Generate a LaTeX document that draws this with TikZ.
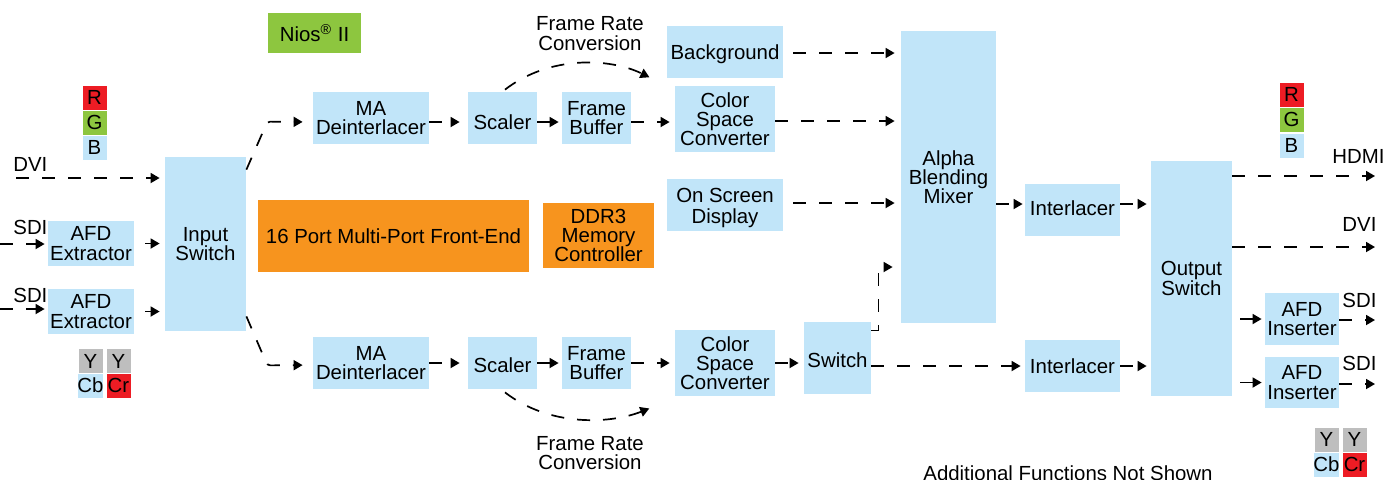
\documentclass[tikz,border=0pt]{standalone}
\usepackage{fontspec}
\setmainfont{Liberation Sans}
\usetikzlibrary{arrows.meta,calc}
\definecolor{lb}{RGB}{193,229,249}
\definecolor{orng}{RGB}{247,148,30}
\definecolor{grn}{RGB}{141,198,63}
\definecolor{rd}{RGB}{237,28,36}
\definecolor{gry}{RGB}{190,190,190}
\newcommand\fs{\fontsize{10.2}{9.6}\selectfont}
\newcommand\lowr[2]{\raisebox{-#1}[\height][\depth]{#2}}
\begin{document}
\begin{tikzpicture}[x=0.5pt,y=-0.5pt,
  box/.style={fill=lb,inner sep=0pt,align=center,font=\fs},
  obox/.style={box,fill=orng},
  sq/.style={inner sep=0pt,minimum size=12.5pt,font=\fs,draw=white,line width=0.4pt},
  arr/.style={draw,line width=0.85pt,dash pattern=on 6.5pt off 6.5pt,-{Triangle[length=4.5pt,width=5pt]},shorten >=2pt},
  lbl/.style={inner sep=0pt,font=\fs,align=center}]
\useasboundingbox (0,0) rectangle (1397,479);

% colour squares left
\node[sq,fill=rd] (lR) at (94.5,97.5) {R};
\node[sq,fill=grn] (lG) at (94.5,122.5) {G};
\node[sq,fill=lb] (lB) at (94.5,147.5) {B};
\node[sq,fill=gry] (lY1) at (90.5,361) {Y};
\node[sq,fill=lb] (lCb) at (90.5,385.5) {Cb};
\node[sq,fill=gry] (lY2) at (118.5,361) {Y};
\node[sq,fill=rd] (lCr) at (118.5,385.5) {Cr};
% colour squares right
\node[sq,fill=rd] (rR) at (1291.5,94.5) {R};
\node[sq,fill=grn] (rG) at (1291.5,119.5) {G};
\node[sq,fill=lb] (rB) at (1291.5,145.5) {B};
\node[sq,fill=gry] (rY1) at (1326.5,439.5) {Y};
\node[sq,fill=lb] (rCb) at (1326.5,464.5) {Cb};
\node[sq,fill=gry] (rY2) at (1354.5,439.5) {Y};
\node[sq,fill=rd] (rCr) at (1354.5,464.5) {Cr};

% boxes
\node[box,minimum width=40.5pt,minimum height=87pt] (in) at (205.5,244) {Input\\Switch};
\node[box,minimum width=43pt,minimum height=22.5pt] (afd1) at (91,243.5) {AFD\\Extractor};
\node[box,minimum width=43pt,minimum height=22.5pt] (afd2) at (91,311.5) {AFD\\Extractor};
\node[box,fill=grn,minimum width=46.5pt,minimum height=20pt] (nios) at (314.5,33) {Nios\textsuperscript{®} II};
\node[box,minimum width=58pt,minimum height=26pt] (mad1) at (371,118) {MA\\Deinterlacer};
\node[box,minimum width=34.5pt,minimum height=26pt] (sc1) at (502.5,118) {\lowr{2pt}{Scaler}};
\node[box,minimum width=34.5pt,minimum height=26pt] (fb1) at (596.5,118) {Frame\\Buffer};
\node[box,minimum width=50pt,minimum height=33pt] (csc1) at (725,119) {Color\\Space\\Converter};
\node[box,minimum width=58pt,minimum height=26pt] (bg) at (725,52) {\lowr{1.2pt}{Background}};
\node[box,minimum width=58pt,minimum height=26pt] (osd) at (725,205) {\lowr{2pt}{\begin{tabular}{@{}c@{}}On Screen\\Display\end{tabular}}};
\node[box,minimum width=47.5pt,minimum height=146pt] (mix) at (948.5,177) {Alpha\\Blending\\Mixer};
\node[box,minimum width=47.5pt,minimum height=26pt] (il1) at (1072.5,210) {\lowr{-0.8pt}{Interlacer}};
\node[box,minimum width=47.5pt,minimum height=26pt] (il2) at (1072.5,366) {Interlacer};
\node[box,minimum width=40.5pt,minimum height=117.5pt] (out) at (1191.5,278.5) {Output\\Switch};
\node[box,minimum width=37pt,minimum height=26pt] (afdi1) at (1302,319) {AFD\\Inserter};
\node[box,minimum width=37pt,minimum height=25.5pt] (afdi2) at (1302,382.5) {AFD\\Inserter};
\node[obox,minimum width=135.5pt,minimum height=36pt] (mpfe) at (393.5,236) {16 Port Multi-Port Front-End};
\node[obox,minimum width=55.5pt,minimum height=32.5pt] (ddr) at (598.5,235.5) {DDR3\\Memory\\Controller};
\node[box,minimum width=58pt,minimum height=26pt] (mad2) at (371,363) {MA\\Deinterlacer};
\node[box,minimum width=34.5pt,minimum height=26pt] (sc2) at (502.5,363) {\lowr{1pt}{Scaler}};
\node[box,minimum width=34.5pt,minimum height=26pt] (fb2) at (596.5,363) {Frame\\Buffer};
\node[box,minimum width=50pt,minimum height=33pt] (csc2) at (725,363) {Color\\Space\\Converter};
\node[box,minimum width=33.5pt,minimum height=36pt] (sw) at (837.5,358) {\lowr{1pt}{Switch}};

% labels
\node[lbl,anchor=west] (ldvi) at (13,164) {DVI};
\node[lbl,anchor=west] (lsdi1) at (13,227) {SDI};
\node[lbl,anchor=west] (lsdi2) at (13,295) {SDI};
\node[lbl,anchor=west] (lhdmi) at (1332,156) {HDMI};
\node[lbl,anchor=west] (ldvo) at (1342,224) {DVI};
\node[lbl,anchor=west] (lsdo1) at (1342,300) {SDI};
\node[lbl,anchor=west] (lsdo2) at (1342,363) {SDI};
\node[lbl] (fr1) at (590,33.5) {Frame Rate\\Conversion};
\node[lbl] (fr2) at (590,453) {Frame Rate\\Conversion};
\node[lbl,anchor=west] (addl) at (923,473.5) {Additional Functions Not Shown};

% free ends
\coordinate (dviin) at (16,178);
\coordinate (sdi1) at (0,244);
\coordinate (sdi2) at (0,309);
\coordinate (hd) at (1375,176);
\coordinate (dvo) at (1375,247);
\coordinate (so1) at (1375,320);
\coordinate (so2) at (1375,384);
\coordinate (frt) at (653,79);
\coordinate (frb) at (653,407);

% input side
\draw[arr,shorten >=2.5pt] (dviin) -- (dviin -| in.west);
\draw[arr,shorten >=1.5pt] (sdi1) -- (sdi1 -| afd1.west);
\draw[arr,shorten >=1.5pt] (sdi2) -- (sdi2 -| afd2.west);
\draw[arr,shorten <=5.5pt,shorten >=2.5pt] (afd1.east) -- (afd1.east -| in.west);
\draw[arr,shorten <=5.5pt,shorten >=2.5pt] (afd2.east) -- (afd2.east -| in.west);

% input switch branches
\draw[arr,shorten >=5pt,rounded corners=1.5pt] ([yshift=-6.5pt]in.north east) -- ++(10.5pt,24pt) -- ([yshift=-2pt]mad1.west);
\draw[arr,shorten >=5pt,rounded corners=1.5pt] ([yshift=7.5pt]in.south east) -- ++(10.5pt,-24.5pt) -- ([yshift=-1pt]mad2.west);

% top row
\draw[arr,shorten >=4pt] ([yshift=-2pt]mad1.east) -- ([yshift=-2pt]sc1.west);
\draw[arr,shorten >=1.5pt] ([yshift=-2pt]sc1.east) -- ([yshift=-2pt]fb1.west);
\draw[arr,shorten >=2.5pt] ([yshift=-2pt]fb1.east) -- ([yshift=-1.5pt]csc1.west);
\coordinate (c1) at ([yshift=-1pt]csc1.east);
\draw[arr,shorten >=3pt] (c1) -- (c1 -| mix.west);
\coordinate (b1) at ([yshift=-0.5pt]bg.east);
\draw[arr,shorten <=5pt,shorten >=3pt] (b1) -- (b1 -| mix.west);
\coordinate (o1) at ([yshift=1pt]osd.east);
\draw[arr,shorten <=5pt,shorten >=3pt] (o1) -- (o1 -| mix.west);
\draw[arr] ([xshift=1.25pt,yshift=1pt]sc1.north) .. controls (550,55) and (610,58) .. (frt);

% mixer to output
\coordinate (m1) at ([yshift=3pt]il1.west);
\draw[arr,shorten >=1pt] (m1 -| mix.east) -- (m1);
\coordinate (m2) at ([yshift=3pt]il1.east);
\draw[arr] (m2) -- (m2 -| out.west);

% bottom row
\draw[arr,shorten >=4pt] (mad2.east) -- (sc2.west);
\draw[arr,shorten >=1.5pt] (sc2.east) -- (fb2.west);
\draw[arr,shorten >=2.5pt] (fb2.east) -- (csc2.west);
\draw[arr] ([xshift=1.25pt,yshift=-1.5pt]sc2.south) .. controls (550,427) and (610,424) .. (frb);
\draw[arr,shorten >=2.5pt] (csc2.east) -- (csc2.east -| sw.west);
\draw[arr,shorten >=4pt] ([yshift=-4.5pt]sw.north east) -- ++(3.5pt,0) |- ([yshift=-45pt]mix.west);
\coordinate (s2) at ([yshift=-4pt]sw.east);
\draw[arr] (s2) -- (s2 -| il2.west);
\draw[arr] (il2.east) -- (il2.east -| out.west);

% output side
\draw[arr,shorten >=0pt] (hd -| out.east) -- (hd);
\draw[arr,shorten >=0pt] (dvo -| out.east) -- (dvo);
\draw[arr,shorten <=4pt,shorten >=1.5pt] (afdi1.west -| out.east) -- (afdi1.west);
\draw[arr,shorten <=4pt,shorten >=1.5pt] (afdi2.west -| out.east) -- (afdi2.west);
\draw[arr,shorten >=0pt] (so1 -| afdi1.east) -- (so1);
\draw[arr,shorten >=0pt] (so2 -| afdi2.east) -- (so2);
\end{tikzpicture}
\end{document}
